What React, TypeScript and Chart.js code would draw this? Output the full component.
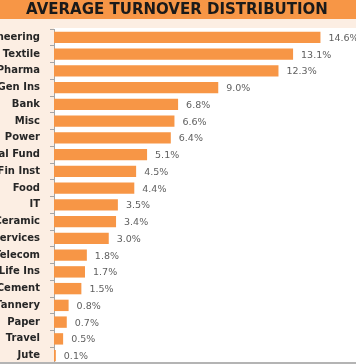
import React, { useEffect, useRef } from "react";
import { Chart, registerables } from "chart.js";

Chart.register(...registerables);

const TITLE = "AVERAGE TURNOVER DISTRIBUTION";
const categories = [
  "Engineering", "Textile", "Pharma", "Gen Ins", "Bank", "Misc", "Power",
  "Mutual Fund", "Fin Inst", "Food", "IT", "Ceramic", "Services", "Telecom",
  "Life Ins", "Cement", "Tannery", "Paper", "Travel", "Jute",
];
const values = [
  14.6, 13.1, 12.3, 9.0, 6.8, 6.6, 6.4, 5.1, 4.5, 4.4, 3.5, 3.4, 3.0, 1.8,
  1.7, 1.5, 0.8, 0.7, 0.5, 0.1,
];

const OFFSET = 40; // labels are cropped on the left in the reference
const W = 356 + OFFSET;
const H = 364;

const ORANGE = "#F79646";
const BEIGE = "#FCEEE3";

const decorPlugin = {
  id: "decor",
  beforeDraw(chart: any) {
    const { ctx, chartArea } = chart;
    ctx.save();
    ctx.fillStyle = BEIGE;
    ctx.fillRect(0, 0, W, H);
    ctx.fillStyle = ORANGE;
    ctx.fillRect(0, 0, W, 19);
    ctx.fillStyle = "#ffffff";
    ctx.fillRect(chartArea.left, 28, W - chartArea.left, H - 28);
    ctx.fillStyle = "#1a1a1a";
    ctx.font = "bold 15px 'DejaVu Sans'";
    ctx.textAlign = "center";
    ctx.textBaseline = "middle";
    ctx.fillText(TITLE, 177 + OFFSET, 10);
    ctx.restore();
  },
  afterDatasetsDraw(chart: any) {
    const { ctx } = chart;
    const meta = chart.getDatasetMeta(0);
    ctx.save();
    ctx.fillStyle = "#5f5f5f";
    ctx.font = "9.5px 'DejaVu Sans'";
    ctx.textAlign = "left";
    ctx.textBaseline = "middle";
    meta.data.forEach((bar: any, i: number) => {
      ctx.fillText(values[i].toFixed(1) + "%", bar.x + 8, bar.y + 1);
    });
    ctx.restore();
  },
  afterDraw(chart: any) {
    const { ctx } = chart;
    ctx.save();
    ctx.fillStyle = "#b4b4b4";
    ctx.fillRect(0, 362, W, 2);
    ctx.restore();
  },
};

export default function App() {
  const ref = useRef<HTMLCanvasElement>(null);
  useEffect(() => {
    if (!ref.current) return;
    const chart = new Chart(ref.current, {
      type: "bar",
      data: {
        labels: categories,
        datasets: [
          {
            data: values,
            backgroundColor: ORANGE,
            borderWidth: 0,
            barPercentage: 0.68,
            categoryPercentage: 1,
          },
        ],
      },
      options: {
        indexAxis: "y",
        responsive: false,
        animation: false,
        devicePixelRatio: 1,
        layout: { padding: { top: 29, right: 10, bottom: 0, left: 0 } },
        plugins: {
          legend: { display: false },
          title: { display: false },
          tooltip: { enabled: false },
        },
        scales: {
          x: {
            display: false,
            min: 0,
            max: 16,
          },
          y: {
            afterFit(scale: any) {
              scale.width = 94;
              scale.paddingTop = 0;
              scale.paddingBottom = 0;
            },
            border: { display: true, color: "#a6a6a6", width: 1 },
            grid: {
              display: true,
              drawOnChartArea: false,
              drawTicks: true,
              tickLength: 4,
              offset: true,
              color: "#a6a6a6",
            },
            ticks: {
              padding: 10,
              color: "#262626",
              font: { family: "'DejaVu Sans'", size: 10, weight: "bold" },
            },
          },
        },
      },
      plugins: [decorPlugin],
    });
    return () => chart.destroy();
  }, []);
  return (
    <div
      style={{
        position: "fixed",
        left: 0,
        top: 0,
        width: 356,
        height: 364,
        overflow: "hidden",
        background: "#fff",
      }}
    >
      <canvas
        ref={ref}
        width={W}
        height={H}
        style={{ position: "absolute", left: -OFFSET, top: 0, width: W, height: H }}
      />
    </div>
  );
}
